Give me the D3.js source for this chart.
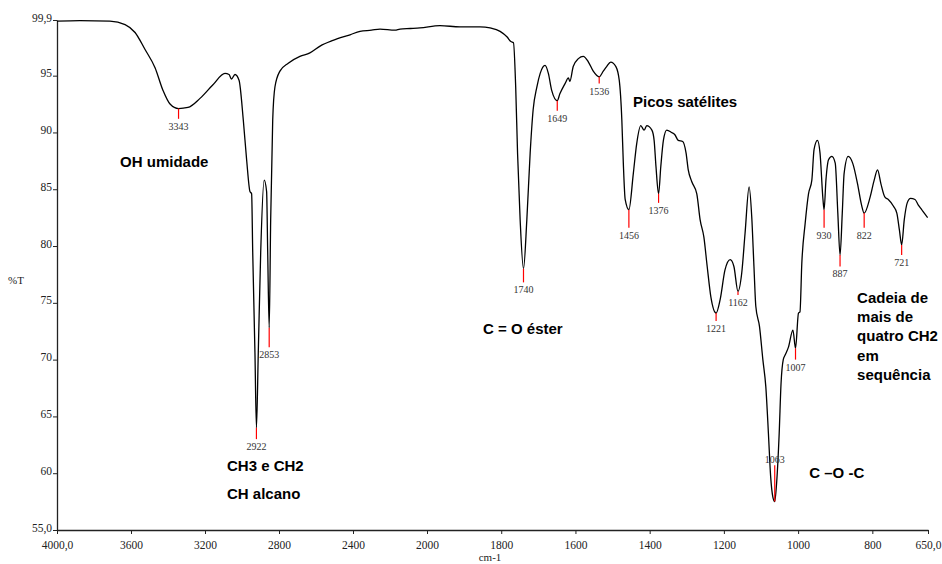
<!DOCTYPE html>
<html>
<head>
<meta charset="utf-8">
<script src="https://cdn.jsdelivr.net/npm/d3@7"></script>
<style>
  body { margin: 0; background: #fff; }
  .axis path, .axis line { stroke: #222; }
  .serifa { font-family: "Liberation Serif", "Times New Roman", serif; fill: #222; }
  .pico { font-family: "Liberation Serif", "Times New Roman", serif; font-size: 10px; fill: #333; }
  .nota { font-family: "Liberation Sans", Arial, sans-serif; font-size: 15px; font-weight: bold; fill: #000; }
</style>
</head>
<body>
<div id="grafIR"></div>
<script>
// Espectro IR (número de onda cm-1, %T)
const numOnda = [4000, 3876, 3714, 3632, 3578, 3524, 3470, 3427, 3389, 3343, 3292, 3227, 3157, 3092, 3070, 3057, 3038, 3016,
  2993, 2975, 2957, 2948, 2942, 2930, 2922, 2912, 2899, 2880, 2867, 2861, 2853, 2845, 2834, 2822, 2795, 2750, 2687,
  2633, 2578, 2508, 2416, 2362, 2300, 2254, 2173, 2146, 2090, 2038, 1965, 1911, 1857, 1830, 1803, 1784, 1774, 1767,
  1761, 1756, 1749, 1740, 1731, 1722, 1714, 1704, 1695, 1682, 1673, 1664, 1649, 1642, 1628, 1619, 1615, 1606, 1592,
  1579, 1565, 1552, 1536, 1525, 1516, 1505, 1491, 1482, 1475, 1471, 1466, 1456, 1444, 1435, 1424, 1415, 1408, 1394,
  1388, 1383, 1376, 1370, 1363, 1354, 1341, 1332, 1323, 1311, 1302, 1296, 1287, 1273, 1264, 1254, 1245, 1235, 1221,
  1210, 1197, 1183, 1173, 1162, 1152, 1143, 1132, 1125, 1119, 1114, 1104, 1095, 1087, 1080, 1074, 1068, 1063, 1058,
  1051, 1046, 1040, 1035, 1026, 1014, 1007, 999, 995, 990, 981, 972, 963, 957, 948, 941, 933, 930, 925, 918, 909,
  900, 893, 887, 881, 876, 865, 853, 840, 829, 822, 806, 795, 786, 777, 766, 757, 743, 734, 727, 721, 714, 706, 697,
  685, 676, 667, 658, 651]
const transm = [99.8, 99.85, 99.8, 99.5, 98.8, 97.3, 95.7, 93.7, 92.5, 92.1, 92.2, 93.0, 94.2, 95.2, 95.1, 94.7, 95.1, 94.6,
  91.1, 87.6, 84.8, 84.6, 79.4, 70.6, 64.0, 70.6, 79.4, 85.8, 84.8, 79.4, 72.8, 82.3, 91.1, 94.0, 95.4, 96.1, 96.7,
  97.0, 97.6, 98.1, 98.6, 98.9, 99.0, 99.1, 99.0, 99.1, 99.15, 99.2, 99.4, 99.3, 99.3, 99.2, 98.9, 98.4, 98.0, 97.9,
  94.0, 88.2, 82.3, 78.0, 82.3, 88.2, 92.0, 94.0, 95.2, 95.9, 95.2, 93.7, 92.8, 93.4, 94.3, 94.8, 94.5, 95.8, 96.5,
  96.7, 96.2, 95.4, 94.9, 95.4, 95.8, 96.2, 95.8, 94.6, 91.1, 87.3, 84.1, 83.2, 86.4, 89.0, 90.6, 90.2, 90.6, 90.2,
  89.3, 87.0, 84.6, 87.0, 89.3, 90.2, 90.0, 89.8, 89.3, 89.2, 88.2, 86.7, 85.7, 84.6, 82.3, 80.8, 78.2, 75.5, 74.1,
  75.3, 77.9, 78.8, 78.2, 76.0, 77.6, 81.1, 85.2, 82.6, 78.2, 74.7, 72.9, 70.0, 67.6, 63.5, 59.7, 57.9, 57.5, 59.1,
  63.5, 67.9, 70.0, 70.4, 71.1, 72.6, 71.0, 74.1, 74.2, 78.5, 82.0, 84.6, 85.8, 88.5, 89.3, 88.2, 84.1, 83.2, 85.8, 87.6, 87.9,
  87.3, 82.9, 79.2, 82.9, 86.4, 87.9, 87.3, 85.5, 83.6, 82.9, 84.3, 85.8, 86.7, 85.5, 84.3, 84.1, 83.5, 82.9, 81.4, 80.1, 82.3, 83.8, 84.2,
  84.1, 83.6, 83.2, 82.8, 82.5]

// Picos marcados: número de onda, %T do mínimo, %T do fim do traço vermelho
const picoOnda = [3343, 2922, 2853, 1740, 1649, 1536, 1456, 1376, 1221, 1162, 1063, 1007, 930, 887, 822, 721]
const picoMin  = [92.1, 64.0, 72.8, 78.0, 92.8, 94.9, 83.2, 84.6, 74.1, 76.0, 57.5, 71.0, 83.2, 79.2, 82.9, 80.1]
const picoFim  = [91.2, 63.0, 71.1, 76.8, 91.9, 94.3, 81.6, 83.8, 73.4, 75.7, 60.7, 70.0, 81.6, 78.2, 81.6, 79.2]

// Ticks
const xTicks = [4000, 3600, 3200, 2800, 2400, 2000, 1800, 1600, 1400, 1200, 1000, 800, 650]
const xTickLabels = ["4000,0", "3600", "3200", "2800", "2400", "2000", "1800", "1600", "1400", "1200", "1000", "800", "650,0"]
const yTicks = [55, 60, 65, 70, 75, 80, 85, 90, 95, 99.9]
const yTickLabels = ["55,0", "60", "65", "70", "75", "80", "85", "90", "95", "99,9"]

// Anotações (texto, número de onda, %T)
const notas = [
  { t: ["OH umidade"], x: 3659, y: 87.0 },
  { t: ["CH3 e CH2"], x: 3081, y: 60.2 },
  { t: ["CH alcano"], x: 3081, y: 57.7 },
  { t: ["C = O éster"], x: 1849, y: 72.26 },
  { t: ["Picos satélites"], x: 1445, y: 92.24 },
  { t: ["C –O -C"], x: 970, y: 59.58 },
  { t: ["Cadeia de", "mais de", "quatro CH2", "em", "sequência"], x: 841, y: 75.0 },
]

const anchoTotal = 942
const altoTotal = 564

const svg = d3.select("#grafIR").append("svg")
    .attr("width", anchoTotal)
    .attr("height", altoTotal)

// Escala com quebra em 2000 cm-1
const x = d3.scaleLinear()
    .domain([4000, 2000, 650])
    .range([57, 427, 928])

const y = d3.scaleLinear()
    .domain([55, 99.9])
    .range([530, 20])

// Ejes
const xAxis = d3.axisBottom(x)
    .tickValues(xTicks)
    .tickFormat((d, i) => xTickLabels[i])
    .tickSize(4)
    .tickSizeOuter(0)
svg.append("g")
    .attr("class", "axis")
    .attr("transform", `translate(0,${y(55)})`)
    .call(xAxis)
    .attr("font-family", null)
    .attr("font-size", null)
    .call(g => g.select(".domain").attr("stroke-width", 1.3))
    .selectAll("text")
    .attr("class", "serifa")
    .style("font-size", "11.5px")
    .attr("dy", "1.05em")

const yAxis = d3.axisLeft(y)
    .tickValues(yTicks)
    .tickFormat((d, i) => yTickLabels[i])
    .tickSize(4)
    .tickSizeOuter(0)
svg.append("g")
    .attr("class", "axis")
    .attr("transform", `translate(${x(4000)},0)`)
    .call(yAxis)
    .attr("font-family", null)
    .attr("font-size", null)
    .call(g => g.select(".domain").attr("stroke-width", 1.3))
    .selectAll("text")
    .attr("class", "serifa")
    .style("font-size", "11.5px")
    .attr("x", -5)
    .attr("dy", "0.1em")

svg.append("text")
    .attr("x", 8)
    .attr("y", 284)
    .attr("class", "serifa")
    .style("font-size", "11px")
    .text("%T")

svg.append("text")
    .attr("x", 490)
    .attr("y", 561)
    .attr("text-anchor", "middle")
    .attr("class", "serifa")
    .style("font-size", "11px")
    .text("cm-1")

// Curva
const dados = numOnda.map((d, i) => ({ w: d, t: transm[i] }))
const linea = d3.line()
    .x(d => x(d.w))
    .y(d => y(d.t))
    .curve(d3.curveMonotoneX)

svg.append("path")
    .datum(dados)
    .attr("d", linea)
    .attr("fill", "none")
    .attr("stroke", "#000")
    .attr("stroke-width", 1.3)

// Picos
const picos = picoOnda.map((d, i) => ({ w: d, min: picoMin[i], fim: picoFim[i] }))
const gp = svg.append("g")
gp.selectAll("line")
    .data(picos)
    .join("line")
    .attr("x1", d => x(d.w))
    .attr("x2", d => x(d.w))
    .attr("y1", d => y(d.min))
    .attr("y2", d => y(d.fim))
    .attr("stroke", "#ff0000")
    .attr("stroke-width", 1.2)

gp.selectAll("text")
    .data(picos)
    .join("text")
    .attr("class", "pico")
    .attr("text-anchor", "middle")
    .attr("x", d => x(d.w))
    .attr("y", d => d.fim > d.min ? y(d.fim) - 2 : y(d.fim) + 11)
    .text(d => d.w)

// Anotações
const gn = svg.append("g")
notas.forEach(n => {
    const txt = gn.append("text")
        .attr("class", "nota")
        .attr("x", x(n.x))
        .attr("y", y(n.y))
    n.t.forEach((l, i) => {
        txt.append("tspan")
            .attr("x", x(n.x))
            .attr("dy", i === 0 ? 0 : 19.3)
            .text(l)
    })
})
</script>
</body>
</html>
